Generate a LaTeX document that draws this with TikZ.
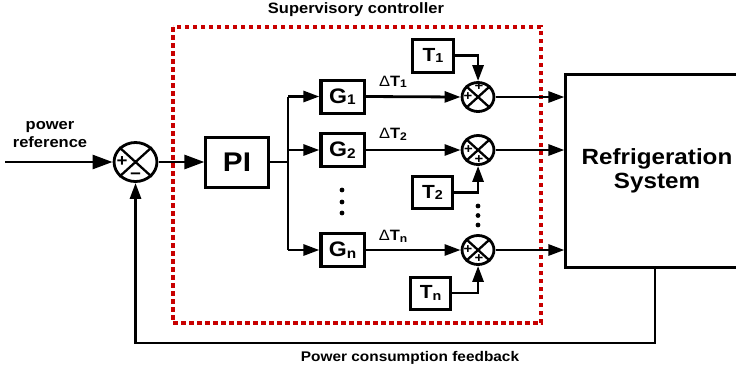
\documentclass[tikz,border=0pt]{standalone}
\usepackage{fontspec}
\setmainfont{Liberation Sans}
\usetikzlibrary{arrows.meta}
\definecolor{dred}{HTML}{C80000}
\newcommand{\lblsub}[3]{#1\raisebox{-1.5pt}{\fontsize{#3}{#3}\selectfont #2}}
\begin{document}
\begin{tikzpicture}[x=0.909091pt, y=-1pt, xscale=1.1, transform shape,
  ln/.style={line width=2.8pt},
  conn/.style={ln, -{Triangle[length=16pt,width=11pt]}},
  connbig/.style={ln, -{Triangle[length=20pt,width=14pt]}},
  blk/.style={draw, line width=3pt, inner sep=0pt, font=\bfseries\fontsize{21}{21}\selectfont},
  sumc/.style={draw, circle, line width=2.8pt, inner sep=0pt},
  sgn/.style={inner sep=0pt, font=\bfseries\fontsize{13.5}{13.5}\selectfont},
  lab/.style={inner sep=0pt, align=center, font=\bfseries\fontsize{15}{18}\selectfont},
  dlab/.style={inner sep=0pt, font=\fontsize{15}{15}\selectfont},
]
\useasboundingbox (0,0) rectangle (736,368);
\clip (0,0) rectangle (736,368);

% supervisory controller frame
\draw[dred, line width=3.3pt, dash pattern=on 4.5pt off 3.5pt] (173,27) rectangle (541,323);

% nodes
\node[sumc, minimum size=39pt] (s0) at (135.5,162) {};
\node[blk, minimum width=56.4pt, minimum height=50pt, font=\bfseries\fontsize{27}{27}\selectfont] (pi) at (237,162) {PI};
\node[blk, minimum width=39.1pt, minimum height=33pt] (g1) at (342.5,96.5) {\lblsub{G}{1}{14}};
\node[blk, minimum width=39.1pt, minimum height=33pt] (g2) at (342.5,150) {\lblsub{G}{2}{14}};
\node[blk, minimum width=39.1pt, minimum height=33pt] (gn) at (342.5,250) {\lblsub{G}{n}{14}};
\node[blk, minimum width=36.4pt, minimum height=33pt, font=\bfseries\fontsize{19}{19}\selectfont] (t1) at (433,55.5) {\lblsub{T}{1}{13}};
\node[blk, minimum width=36.4pt, minimum height=32pt, font=\bfseries\fontsize{19}{19}\selectfont] (t2) at (432.5,192.5) {\lblsub{T}{2}{13}};
\node[blk, minimum width=36.4pt, minimum height=32pt, font=\bfseries\fontsize{19}{19}\selectfont] (tn) at (430.5,293) {\lblsub{T}{n}{13}};
\node[sumc, minimum size=29pt] (c1) at (478,97) {};
\node[sumc, minimum size=29pt] (c2) at (478,150) {};
\node[sumc, minimum size=29pt] (cn) at (478,250) {};
\node[blk, minimum width=165.5pt, minimum height=193pt, align=center, font=\bfseries\fontsize{22}{24}\selectfont] (rs) at (657,170.5) {Refrigeration\\System};

% crosses in summing junctions
\foreach \c in {s0,c1,c2,cn}{
  \draw[line width=2.3pt] (\c.45) -- (\c.225) (\c.135) -- (\c.315);
}
% signs
\node[sgn, font=\bfseries\fontsize{17}{17}\selectfont] (s0p) at (122,162) {+};
\node[sgn, font=\bfseries\fontsize{17}{17}\selectfont] (s0m) at (135.5,176) {−};
\node[sgn] (c1t) at (479,87) {+};
\node[sgn] (c1l) at (468,97) {+};
\node[sgn] (c2l) at (468.5,150) {+};
\node[sgn] (c2b) at (479,159.5) {+};
\node[sgn] (cnl) at (468,250) {+};
\node[sgn] (cnb) at (479,259) {+};

% labels
\node[lab] (sup) at (356,10) {Supervisory controller};
\node[lab, font=\bfseries\fontsize{14}{14}\selectfont] (pcf) at (410,358) {Power consumption feedback};
\node[lab] (pref) at (50,135) {power\\reference};
\node[dlab] (d1) at (393,82) {Δ\textbf{\lblsub{T}{1}{11}}};
\node[dlab] (d2) at (393,134.5) {Δ\textbf{\lblsub{T}{2}{11}}};
\node[dlab] (dn) at (393,236.5) {Δ\textbf{\lblsub{T}{n}{11}}};

% connectors
\coordinate (in) at (5,162);
\draw[connbig] (in) -- (s0.west);
\draw[connbig] (s0.east) -- (pi.west);
\coordinate (br) at (288,162);
\draw[ln] (pi.east) -- (br);
\draw[ln] (br |- g1) -- (br |- gn);
\draw[conn] (br |- g1) -- (g1.west);
\draw[conn] (br |- g2) -- (g2.west);
\draw[conn] (br |- gn) -- (gn.west);
\draw[conn] (g1.east) -- (c1.west);
\draw[conn] (g2.east) -- (c2.west);
\draw[conn] (gn.east) -- (cn.west);
\draw[conn] (t1.east) -| (c1.north);
\draw[conn] (t2.east) -| (c2.south);
\draw[conn] (tn.east) -| (cn.south);
\draw[conn] (c1.east) -- (c1.east -| rs.west);
\draw[conn] (c2.east) -- (c2.east -| rs.west);
\draw[conn] (cn.east) -- (cn.east -| rs.west);
\coordinate (fb) at (655,343);
\draw[conn] (rs.south -| fb) -- (fb) -| (s0.south);

% continuation dots
\foreach \y in {190,202,213} { \fill (342,\y) circle (2.4); }
\foreach \y in {206,215.5,225} { \fill (478,\y) circle (2.4); }
\end{tikzpicture}
\end{document}
